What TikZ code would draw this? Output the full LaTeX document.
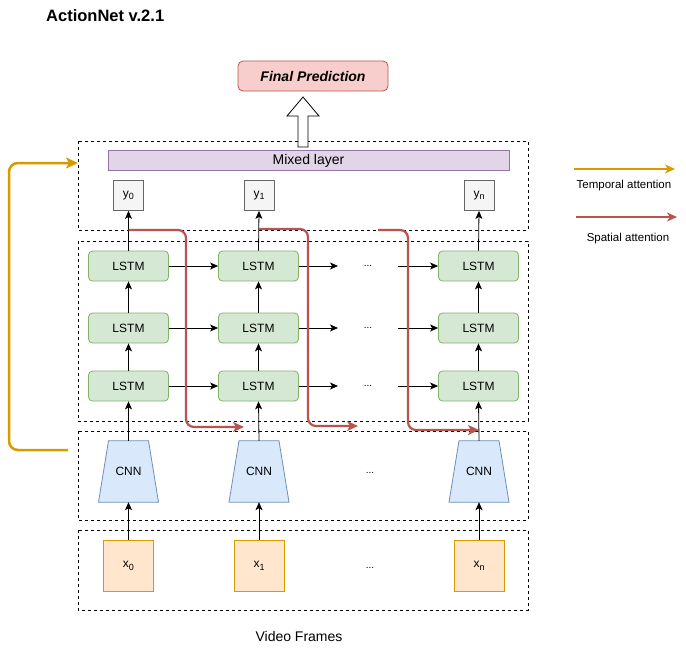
\documentclass[tikz,border=0pt]{standalone}
\usepackage{fontspec}
\setmainfont{Liberation Sans}
\usetikzlibrary{arrows.meta}
\definecolor{redline}{HTML}{B85450}
\definecolor{redfill}{HTML}{F8CECC}
\definecolor{orangeline}{HTML}{D79B00}
\definecolor{orangefill}{HTML}{FFE6CC}
\definecolor{greenline}{HTML}{82B366}
\definecolor{greenfill}{HTML}{D5E8D4}
\definecolor{blueline}{HTML}{6C8EBF}
\definecolor{bluefill}{HTML}{DAE8FC}
\definecolor{purpleline}{HTML}{9673A6}
\definecolor{purplefill}{HTML}{E1D5E7}
\definecolor{greyline}{HTML}{666666}
\definecolor{greyfill}{HTML}{F5F5F5}
\newcommand{\fsz}[1]{\fontsize{#1}{#1}\selectfont}
\newcommand{\mysub}[1]{\raisebox{-2.5pt}{\fsz{9}#1}}
\tikzset{
  dashbox/.style={draw=black, line width=0.8pt, dash pattern=on 3pt off 3pt},
  lstmbox/.style={draw=greenline, fill=greenfill, rounded corners=4pt, minimum width=80pt, minimum height=30pt, inner sep=0pt, font=\fsz{12}, line width=0.8pt},
  ybox/.style={draw=greyline, fill=greyfill, minimum width=30pt, minimum height=30pt, inner sep=0pt, font=\fsz{12}, line width=0.8pt},
  xbox/.style={draw=orangeline, fill=orangefill, minimum width=50pt, minimum height=51pt, inner sep=0pt, font=\fsz{12}, line width=0.8pt},
  cnnbox/.style={minimum width=60pt, minimum height=61pt, inner sep=0pt, font=\fsz{12}},
  dotsnode/.style={font=\fsz{10}, inner sep=0pt},
  blk/.style={draw=black, line width=0.8pt, -{Stealth[length=8pt,width=7pt,inset=2pt]}},
  redarrow/.style={draw=redline, line width=2.2pt, rounded corners=8pt, -{Stealth[length=11pt,width=10pt,inset=3pt]}},
  orangearrow/.style={draw=orangeline, line width=2.5pt, rounded corners=9pt, -{Stealth[length=12pt,width=11pt,inset=3pt]}},
}
\begin{document}
\begin{tikzpicture}[x=1pt,y=-1pt]
\useasboundingbox[fill=white] (0,0) rectangle (686,651);

% title
\node[anchor=west, inner sep=0pt, font=\bfseries\fsz{16.5}] (title) at (46,16) {ActionNet v.2.1};

% dashed group boxes
\draw[dashbox] (78,141) rectangle (528,230);
\draw[dashbox] (78,241) rectangle (528,421);
\draw[dashbox] (78,431) rectangle (528,520);
\draw[dashbox] (78,530) rectangle (528,610);

% final prediction
\node[draw=redline, fill=redfill, rounded corners=5pt, minimum width=150pt, minimum height=30pt, inner sep=0pt, font=\bfseries\itshape\fsz{14}, line width=0.8pt] (final) at (313,76) {Final Prediction};

% block arrow
\draw[fill=white, draw=black, line width=0.8pt] (298,147) -- (298,116) -- (287,116) -- (303,97) -- (319,116) -- (308,116) -- (308,147) -- cycle;

% mixed layer
\node[draw=purpleline, fill=purplefill, minimum width=401pt, minimum height=20pt, inner sep=0pt, font=\fsz{14}, line width=0.8pt] (mixed) at (308.5,160.5) {Mixed layer};

% y boxes
\node[ybox] (y0) at (128.5,195.5) {y\mysub{0}};
\node[ybox] (y1) at (259,195.5) {y\mysub{1}};
\node[ybox] (yn) at (479,195.5) {y\mysub{n}};

% LSTM grid
\foreach \r/\yy in {1/266,2/328,3/386}{
  \node[lstmbox] (l1\r) at (128.5,\yy) {LSTM};
  \node[lstmbox] (l2\r) at (258.5,\yy) {LSTM};
  \node[lstmbox] (l3\r) at (478.5,\yy) {LSTM};
  \node[dotsnode] (d\r) at (368,\yy) {...};
  \coordinate (hs\r) at (338,\yy);
  \coordinate (he\r) at (398,\yy);
}

% CNN
\foreach \c/\xx in {1/128.5,2/259,3/479}{
  \node[cnnbox] (cnn\c) at (\xx,471.5) {};
  \draw[draw=blueline, fill=bluefill, line width=0.8pt] ([xshift=-20pt]cnn\c.north) -- ([xshift=20pt]cnn\c.north) -- ([xshift=30pt]cnn\c.south) -- ([xshift=-30pt]cnn\c.south) -- cycle;
  \node[cnnbox] at (cnn\c) {CNN};
}
\node[dotsnode] (dcnn) at (370,473) {...};

% x boxes
\node[xbox] (x0) at (128.5,566) {x\mysub{0}};
\node[xbox] (x1) at (259,566) {x\mysub{1}};
\node[xbox] (xn) at (479,566) {x\mysub{n}};
\node[dotsnode] (dx) at (370,568) {...};

\node[font=\fsz{14}, inner sep=0pt] (vf) at (299,636) {Video Frames};

% horizontal arrows
\foreach \r in {1,2,3}{
  \draw[blk] (l1\r) -- (l2\r);
  \draw[blk] (l2\r.east) -- (hs\r);
  \draw[blk] (he\r) -- (l3\r.west);
}

% vertical arrows
\foreach \c/\xi/\yi in {1/x0/y0,2/x1/y1,3/xn/yn}{
  \draw[blk] (\xi.north) -- (cnn\c.south);
  \draw[blk] (cnn\c.north) -- (l\c3.south);
  \draw[blk] (l\c3.north) -- (l\c2.south);
  \draw[blk] (l\c2.north) -- (l\c1.south);
  \draw[blk] (l\c1.north) -- (\yi.south);
}

% spatial attention (red)
\coordinate (rs1) at (128.5,230); \coordinate (re1) at (244,427);
\coordinate (rs2) at (259,229);   \coordinate (re2) at (358,426);
\coordinate (rs3) at (378,230);   \coordinate (re3) at (479,430);
\draw[redarrow] (rs1) -| (186,330) |- (re1);
\draw[redarrow] (rs2) -| (308,330) |- (re2);
\draw[redarrow] (rs3) -| (408,330) |- (re3);

% temporal attention (orange)
\coordinate (os) at (68,450);
\coordinate (oe) at (78,163);
\draw[orangearrow] (os) -- (9,450) -- (9,163) -- (oe);

% legend
\coordinate (lo1) at (574,169); \coordinate (lo2) at (675,169);
\draw[draw=orangeline, line width=2pt, -{Stealth[length=10pt,width=9pt,inset=3pt]}] (lo1) -- (lo2);
\node[font=\fsz{11.5}, inner sep=0pt] (lt) at (624,186) {Temporal attention};
\coordinate (lr1) at (576,217); \coordinate (lr2) at (677,217);
\draw[draw=redline, line width=2pt, -{Stealth[length=10pt,width=9pt,inset=3pt]}] (lr1) -- (lr2);
\node[font=\fsz{11.5}, inner sep=0pt] (ls) at (628,239) {Spatial attention};
\end{tikzpicture}
\end{document}
